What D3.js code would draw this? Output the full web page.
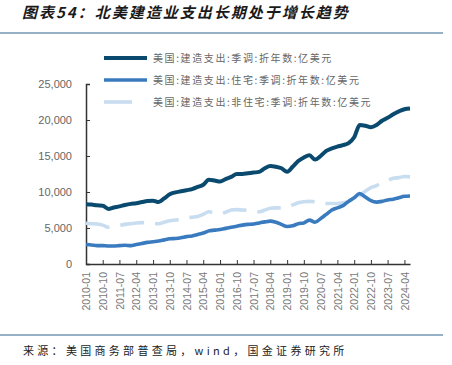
<!DOCTYPE html>
<html>
<head>
<meta charset="utf-8">
<script src="https://cdn.jsdelivr.net/npm/d3@7"></script>
<style>
  body { margin: 0; background: #fff; }
  svg { display: block; }
</style>
</head>
<body>
<script>
// quarterly points, 2010-01 .. 2024-07 (亿美元, 季调折年)
var quarterStart = "2010-01";
var totalSpend = [8300,8250,8150,8100, 7650,7850,8000,8200, 8350,8450,8600,8750,
  8800,8600,9100,9700, 9950,10100,10250,10400, 10700,11000,11700,11600,
  11450,11800,12100,12500, 12500,12600,12700,12800, 13300,13600,13500,13300,
  12800,13500,14300,14800, 15100,14500,15000,15700, 16050,16300,16500,16800,
  17600,19300,19200,19000, 19300,19900,20300,20800, 21200,21500,21600];
var residential = [2700,2650,2550,2550, 2500,2500,2550,2600, 2550,2700,2850,3000,
  3100,3200,3350,3500, 3550,3650,3800,3900, 4100,4300,4600,4700,
  4800,4950,5100,5250, 5400,5500,5550,5700, 5850,5950,5800,5500,
  5200,5300,5600,5700, 6100,5800,6300,6900, 7500,7800,8100,8700,
  9200,9800,9300,8800, 8600,8700,8900,9000, 9200,9400,9450];
var nonResidential = [5650,5600,5550,5400, 5100,5200,5350,5500, 5600,5700,5750,5700,
  5650,5600,5800,6000, 6100,6200,6400,6500, 6600,6900,7250,7100,
  6950,7200,7500,7550, 7500,7450,7300,7250, 7500,7750,7800,7800,
  7850,8200,8500,8650, 8700,8650,8450,8400, 8400,8400,8500,8650,
  8800,9500,10100,10600, 10900,11300,11600,11900, 12000,12150,12100];
var seriesNames = ["美国:建造支出:季调:折年数:亿美元",
  "美国:建造支出:住宅:季调:折年数:亿美元",
  "美国:建造支出:非住宅:季调:折年数:亿美元"];
var seriesColors = ["#0b4a6f", "#3a7bbf", "#c9ddf1"];
var yTicks = [0, 5000, 10000, 15000, 20000, 25000];
var xTickLabels = ["2010-01","2010-10","2011-07","2012-04","2013-01","2013-10","2014-07",
  "2015-04","2016-01","2016-10","2017-07","2018-04","2019-01","2019-10","2020-07",
  "2021-04","2022-01","2022-10","2023-07","2024-04"];

var parseMonth = d3.timeParse("%Y-%m");
var dates = d3.timeMonth.every(3).range(parseMonth(quarterStart), parseMonth("2024-08"));

var svg = d3.select("body").append("svg").attr("width", 452).attr("height", 365);

svg.append("text")
    .attr("x", 22).attr("y", 18)
    .attr("font-family", "'Noto Sans CJK SC'")
    .attr("font-size", "15px")
    .attr("font-weight", "bold")
    .attr("font-style", "italic")
    .attr("letter-spacing", "2px")
    .attr("fill", "#1a1a1a")
    .text("图表54：北美建造业支出长期处于增长趋势");

svg.append("line").attr("x1", 0).attr("x2", 443).attr("y1", 33).attr("y2", 33)
    .attr("stroke", "#2f6590").attr("stroke-width", 1.2);
svg.append("line").attr("x1", 0).attr("x2", 443).attr("y1", 335).attr("y2", 335)
    .attr("stroke", "#2f6590").attr("stroke-width", 1.2);

svg.append("text")
    .attr("x", 23).attr("y", 355)
    .attr("font-family", "'Noto Sans CJK SC'")
    .attr("font-size", "11px")
    .attr("letter-spacing", "3.3px")
    .attr("fill", "#222")
    .text("来源：美国商务部普查局，wind，国金证券研究所");

var x = d3.scaleTime()
    .domain([parseMonth("2010-01"), parseMonth("2024-07")])
    .range([86, 410]);
var y = d3.scaleLinear().domain([0, 25000]).range([264, 84]);

var yAxis = d3.axisLeft(y).tickValues(yTicks).tickFormat(d3.format(",")).tickSize(-4).tickPadding(14);
var gy = svg.append("g").attr("transform", "translate(86,0)").call(yAxis);
gy.select(".domain").attr("stroke", "#333").attr("stroke-width", 1.5);
gy.selectAll(".tick line").attr("stroke", "#333");
gy.selectAll("text").attr("font-family", "'Liberation Sans', Arial").attr("font-size", "11px").attr("fill", "#666");

var xAxis = d3.axisBottom(x)
    .tickValues(xTickLabels.map(parseMonth))
    .tickFormat(d3.timeFormat("%Y-%m"))
    .tickSize(-4)
    .tickSizeOuter(0);
var gx = svg.append("g").attr("transform", "translate(0,264)").call(xAxis);
gx.select(".domain").attr("stroke", "#333").attr("stroke-width", 1.5);
gx.selectAll(".tick line").attr("stroke", "#333");
gx.selectAll("text")
    .attr("font-family", "'Liberation Sans', Arial").attr("font-size", "10.5px").attr("fill", "#777")
    .attr("text-anchor", "end")
    .attr("transform", "rotate(-90)")
    .attr("x", -8).attr("y", 0).attr("dy", "0.35em");

var series = [totalSpend, residential, nonResidential];
var line = d3.line()
    .x(function(d, i) { return x(dates[i]); })
    .y(function(d) { return y(d); })
    .curve(d3.curveMonotoneX);

// draw non-residential first, then residential, then total on top
[2, 1, 0].forEach(function(k) {
  svg.append("path")
      .attr("d", line(series[k]))
      .attr("fill", "none")
      .attr("stroke", seriesColors[k])
      .attr("stroke-width", k == 0 ? 4 : 3.6)
      .attr("stroke-linejoin", "round")
      .attr("stroke-dasharray", k == 2 ? "24,11" : null);
});

var legend = svg.selectAll("g.legend")
    .data(seriesNames)
    .enter().append("g")
      .attr("class", "legend")
      .attr("transform", function(d, i) { return "translate(104," + (58 + i * 22) + ")"; });
legend.append("line")
    .attr("x1", 0).attr("x2", function(d, i) { return i == 2 ? 28 : 43; })
    .attr("y1", 0).attr("y2", 0)
    .attr("stroke", function(d, i) { return seriesColors[i]; })
    .attr("stroke-width", function(d, i) { return i == 0 ? 4 : 3.6; });
legend.append("text")
    .attr("x", 49).attr("y", 0).attr("dy", "0.35em")
    .attr("font-family", "'Noto Sans CJK SC'")
    .attr("font-size", "10px")
    .attr("letter-spacing", "1.6px")
    .attr("fill", "#666")
    .text(function(d) { return d; });
</script>
</body>
</html>
